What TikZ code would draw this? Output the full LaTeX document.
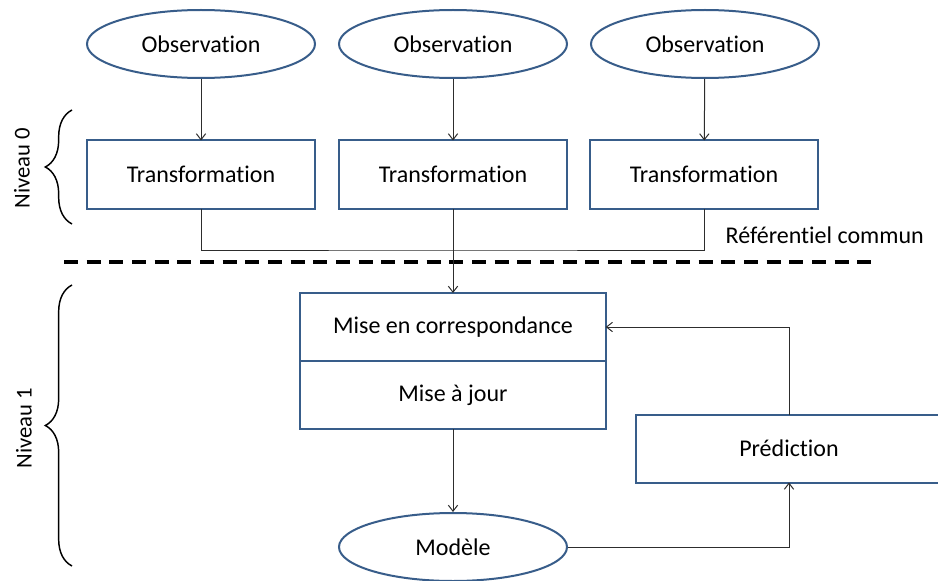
\documentclass[tikz,border=0pt]{standalone}
\usepackage{fontspec}
\setmainfont{Carlito}[Ligatures={NoCommon}]
\usepackage{xcolor}
\usepackage{tikz}
\usetikzlibrary{positioning}
\usetikzlibrary{arrows,arrows.meta,shapes}
\usetikzlibrary{calc}
\usetikzlibrary{decorations.pathreplacing}
\definecolor{boxblue}{RGB}{56,93,138}
\definecolor{linegray}{RGB}{45,45,45}
\tikzstyle{obsnode}=[ellipse,draw=boxblue,line width=1.5pt,fill=white,minimum width=171pt,minimum height=51pt,inner sep=0pt,font=\fontsize{18}{21}\selectfont]
\tikzstyle{procnode}=[rectangle,draw=boxblue,line width=1.5pt,fill=white,minimum width=171pt,minimum height=51pt,inner sep=0pt,outer sep=0pt,font=\fontsize{18}{21}\selectfont]
\tikzstyle{widenode}=[procnode,minimum width=229pt]
\tikzstyle{edge} = [draw,line width=0.75pt,linegray,-{Straight Barb[length=4.5pt,width=7pt]}]
\tikzstyle{joinline} = [draw,line width=0.75pt,linegray]
\tikzstyle{sepline} = [draw,line width=2.3pt,dash pattern=on 10.5pt off 6.5pt]
\tikzstyle{levelbrace} = [draw,line width=1.1pt,decorate,decoration={brace,amplitude=20pt}]
\tikzstyle{levellabel} = [rotate=90,font=\fontsize{17}{20}\selectfont]

\begin{document}
\begin{tikzpicture}[x=0.75pt,y=-0.75pt]
\useasboundingbox (0,0) rectangle (938,581);

%Niveau 0
    \foreach \pos/\name/\label in {{(201,44)/obs1/Observation}, {(453,44)/obs2/Observation}, {(705,44)/obs3/Observation}}
        \node[obsnode] (\name) at \pos {\label};
    \foreach \pos/\name/\label in {{(201,174.5)/tr1/Transformation}, {(453,174.5)/tr2/Transformation}, {(704,174.5)/tr3/Transformation}}
        \node[procnode] (\name) at \pos {\label};

	\foreach \source/ \dest in {obs1/tr1, obs2/tr2, obs3/tr3}
		\path[edge] (\source) -- (\dest);

%Referentiel commun
    \coordinate (ref) at (453,250);
    \path[joinline] (tr1.south) |- (ref) -| (tr3.south);
    \node[anchor=west,font=\fontsize{18}{21}\selectfont] (reflabel) at (721,235) {Référentiel commun};

    \coordinate (dashL) at (64,262);
    \coordinate (dashR) at (874,262);
    \path[sepline] (dashL) -- (dashR);

%Niveau 1
    \node[widenode] (mec) at (453,327) {Mise en correspondance};
    \node[widenode,below=0pt of mec] (maj) {Mise à jour};
    \node[widenode] (pred) at (789,448.5) {Prédiction};
    \node[obsnode] (mod) at (453,547) {Modèle};

	\path[edge] (tr2.south) -- (mec.north);
	\path[edge] (maj) -- (mod);
	\path[edge] (mod.east) -| (pred.south);
	\path[edge] (pred.north) |- (mec.east);

%braces
    \coordinate (b0top) at (72,110);
    \coordinate (b0bot) at (72,224);
    \coordinate (b1top) at (72,285);
    \coordinate (b1bot) at (72,566);
    \path[levelbrace] (b0bot) -- (b0top);
    \path[levelbrace] (b1bot) -- (b1top);
    \node[levellabel] (niv0) at (22,168) {Niveau 0};
    \node[levellabel] (niv1) at (24,428) {Niveau 1};

\end{tikzpicture}
\end{document}
